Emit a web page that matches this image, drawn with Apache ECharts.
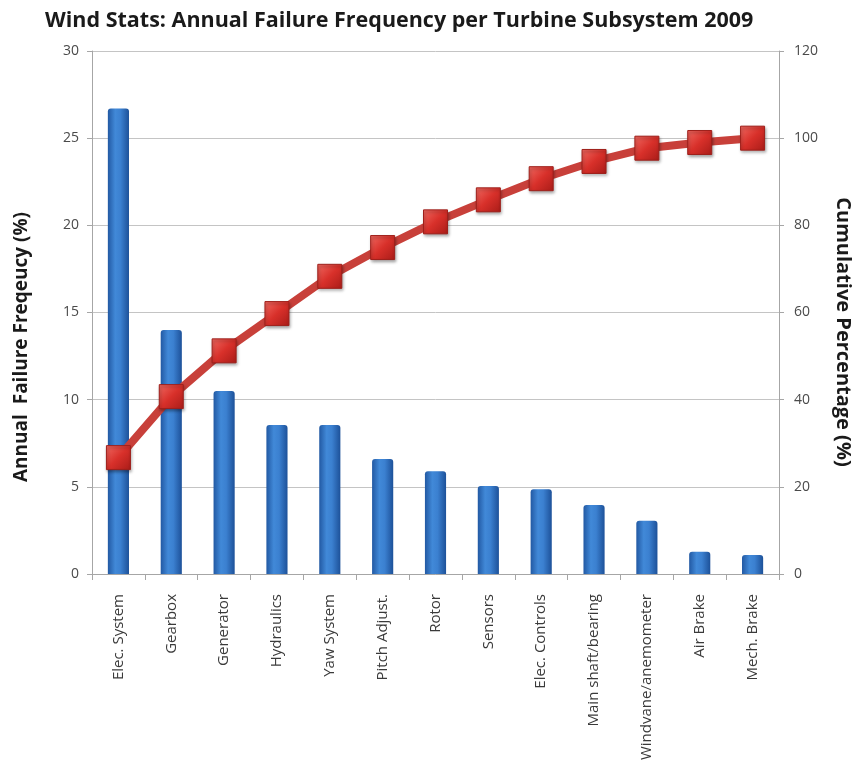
<!DOCTYPE html>
<html>
<head>
<meta charset="utf-8">
<script src="https://cdn.jsdelivr.net/npm/echarts@6/dist/echarts.min.js"></script>
<style>
  html, body { margin: 0; padding: 0; background: #fff; }
  #chart { width: 855px; height: 763px; }
</style>
</head>
<body>
<div id="chart"></div>
<script>
// Turbine subsystems, ordered by failure share
const subsystems = [
  'Elec. System', 'Gearbox', 'Generator', 'Hydraulics', 'Yaw System',
  'Pitch Adjust.', 'Rotor', 'Sensors', 'Elec. Controls', 'Main shaft/bearing',
  'Windvane/anemometer', 'Air Brake', 'Mech. Brake'
];

// Annual failure frequency (%) per subsystem
const failureFrequency = [26.7, 14.0, 10.5, 8.55, 8.55, 6.6, 5.9, 5.05, 4.86, 3.96, 3.06, 1.28, 1.09];

// Cumulative percentage (%)
const cumulativePercent = [26.7, 40.7, 51.2, 59.75, 68.3, 74.9, 80.8, 85.85, 90.7, 94.65, 97.7, 99.0, 100.0];

// Axis scales
const leftTicks = { min: 0, max: 30, interval: 5 };
const rightTicks = { min: 0, max: 120, interval: 20 };

const FONT = '"Open Sans", "Liberation Sans", sans-serif';

const chart = echarts.init(document.getElementById('chart'), null, { renderer: 'canvas' });

const barGradient = new echarts.graphic.LinearGradient(0, 0, 1, 0, [
  { offset: 0, color: '#2259a3' },
  { offset: 0.35, color: '#4189d8' },
  { offset: 0.6, color: '#3b80d0' },
  { offset: 1, color: '#1d5199' }
]);

const markerGradient = new echarts.graphic.LinearGradient(0, 0, 1, 1, [
  { offset: 0, color: '#f06a62' },
  { offset: 0.5, color: '#d8302a' },
  { offset: 1, color: '#a81c18' }
]);

const nameStyle = { fontFamily: FONT, fontWeight: 'bold', fill: '#1a1a1a' };

chart.setOption({
  animation: false,
  backgroundColor: '#ffffff',
  title: {
    text: 'Wind Stats: Annual Failure Frequency per Turbine Subsystem 2009',
    left: 40,
    top: 5,
    textStyle: { fontFamily: FONT, fontSize: 21.5, fontWeight: 'bold', color: '#1a1a1a' }
  },
  grid: { left: 92, right: 76, top: 51, bottom: 189, outerBoundsMode: 'none', containLabel: false },
  // Axis titles, placed beside the plot
  graphic: [
    {
      type: 'text',
      x: 22, y: 347,
      rotation: Math.PI / 2,
      style: Object.assign({ text: 'Annual  Failure Freqeucy (%)', fontSize: 19, align: 'center', verticalAlign: 'middle' }, nameStyle)
    },
    {
      type: 'text',
      x: 843, y: 332,
      rotation: -Math.PI / 2,
      style: Object.assign({ text: 'Cumulative Percentage (%)', fontSize: 20, align: 'center', verticalAlign: 'middle' }, nameStyle)
    }
  ],
  xAxis: {
    type: 'category',
    data: subsystems,
    axisLine: { lineStyle: { color: '#a6a6a6', width: 1 } },
    axisTick: { show: true, length: 6, lineStyle: { color: '#a6a6a6' } },
    axisLabel: {
      rotate: 90,
      margin: 20,
      fontFamily: FONT,
      fontSize: 15,
      color: '#3a3a3a'
    }
  },
  yAxis: [
    {
      type: 'value',
      min: leftTicks.min,
      max: leftTicks.max,
      interval: leftTicks.interval,
      axisLine: { show: true, lineStyle: { color: '#a6a6a6' } },
      axisTick: { show: true, length: 5, lineStyle: { color: '#a6a6a6' } },
      axisLabel: { fontFamily: FONT, fontSize: 14, color: '#4a4a4a', margin: 13 },
      splitLine: { show: true, lineStyle: { color: '#c4c4c4', width: 1 } }
    },
    {
      type: 'value',
      min: rightTicks.min,
      max: rightTicks.max,
      interval: rightTicks.interval,
      position: 'right',
      axisLine: { show: true, lineStyle: { color: '#a6a6a6' } },
      axisTick: { show: true, length: 5, lineStyle: { color: '#a6a6a6' } },
      axisLabel: { fontFamily: FONT, fontSize: 14, color: '#4a4a4a', margin: 15 },
      splitLine: { show: false }
    }
  ],
  series: [
    {
      name: 'Annual Failure Frequency',
      type: 'bar',
      yAxisIndex: 0,
      data: failureFrequency,
      barWidth: '40%',
      itemStyle: {
        color: barGradient,
        borderRadius: [3, 3, 0, 0]
      },
      z: 2
    },
    {
      name: 'Cumulative Percentage',
      type: 'line',
      yAxisIndex: 1,
      data: cumulativePercent,
      symbol: 'rect',
      symbolSize: 24,
      lineStyle: { color: '#c8403a', width: 8 },
      itemStyle: {
        color: markerGradient,
        borderColor: '#9e1f1a',
        borderWidth: 1,
        shadowColor: 'rgba(0,0,0,0.35)',
        shadowBlur: 3,
        shadowOffsetX: 1,
        shadowOffsetY: 2
      },
      z: 3
    }
  ]
});
</script>
</body>
</html>
